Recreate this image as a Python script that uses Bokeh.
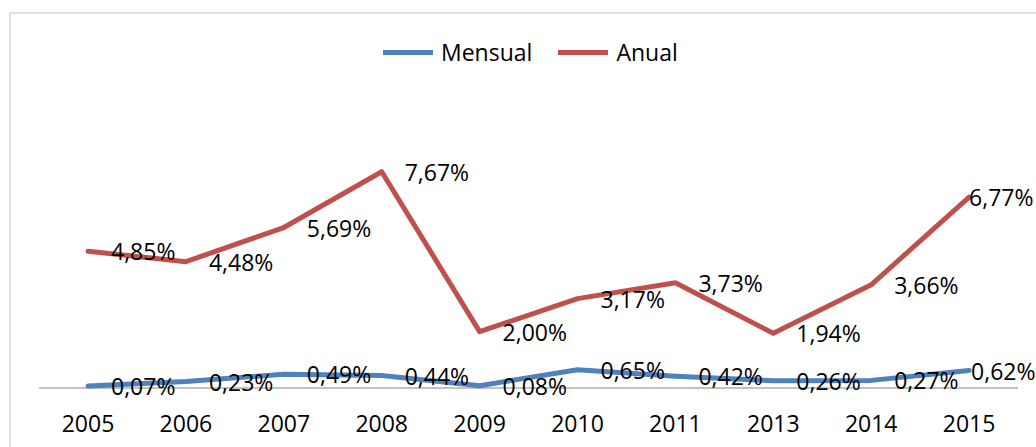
from bokeh.plotting import figure
from bokeh.models import Range1d, FixedTicker, Legend, LegendItem, ColumnDataSource, BoxAnnotation
from bokeh.core.properties import value
from bokeh.embed import file_html
from bokeh.resources import INLINE

# ---- data ----
years = ["2005", "2006", "2007", "2008", "2009", "2010", "2011", "2013", "2014", "2015"]
mensual = [0.07, 0.23, 0.49, 0.44, 0.08, 0.65, 0.42, 0.26, 0.27, 0.62]
anual = [4.85, 4.48, 5.69, 7.67, 2.00, 3.17, 3.73, 1.94, 3.66, 6.77]
series_names = ["Mensual", "Anual"]

# ---- style / layout ----
BLUE = "#4F81BD"
RED = "#C0504D"
GREY = "#868686"
BORDER = "#7A7A7A"
FONT = "Open Sans"
FS = "23px"
W, H = 1036, 447
X0, XU = 87.5, 97.9     # pixel of first category, pixels per category
Y0, YU = 387.5, 28.2    # pixel of zero line, pixels per percent

n = len(years)
idx = list(range(n))


def fmt(v):
    return f"{v:.2f}%".replace(".", ",")


m_off = [23] * (n - 1) + [2]
a_off = [23] * (n - 1) + [0]

src_m = ColumnDataSource(dict(x=idx, y=mensual, t=[fmt(v) for v in mensual], xo=m_off))
src_a = ColumnDataSource(dict(x=idx, y=anual, t=[fmt(v) for v in anual], xo=a_off))

xr = Range1d(-X0 / XU, (W - X0) / XU)
yr = Range1d(-(H - Y0) / YU, Y0 / YU)

p = figure(width=W, height=H, output_backend="svg", toolbar_location=None,
           x_range=xr, y_range=yr,
           min_border_left=0, min_border_right=0, min_border_top=0, min_border_bottom=0)
p.outline_line_color = None
p.xgrid.visible = False
p.ygrid.visible = False
p.yaxis.visible = False
p.background_fill_color = "white"
p.border_fill_color = "white"

ax = p.xaxis[0]
ax.fixed_location = 0
ax.ticker = FixedTicker(ticks=idx)
ax.major_label_overrides = {i: y for i, y in zip(idx, years)}
ax.axis_line_color = None
ax.major_tick_line_color = None
ax.minor_tick_line_color = None
ax.major_label_text_font = FONT
ax.major_label_text_font_size = FS
ax.major_label_text_color = "black"
ax.major_label_standoff = 21

# chart border (only top/left edges fall inside the window)
p.add_layout(BoxAnnotation(left=(9.5 - X0) / XU, top=(Y0 - 12.5) / YU,
                           right=xr.end + 5, bottom=yr.start - 5,
                           fill_alpha=0, line_color=BORDER, line_width=1.5))

# baseline at zero
p.segment(x0=[idx[0] - 0.5], x1=[idx[-1] + 0.5], y0=[0], y1=[0], line_color=GREY, line_width=1.2)

r_m = p.line("x", "y", source=src_m, line_color=BLUE, line_width=5, line_cap="round", line_join="round")
r_a = p.line("x", "y", source=src_a, line_color=RED, line_width=5, line_cap="round", line_join="round")

for s in (src_m, src_a):
    p.text("x", "y", text="t", source=s, x_offset="xo", y_offset=0,
           text_font=value(FONT), text_font_size=FS, text_color="black",
           text_align="left", text_baseline="middle")

legend = Legend(items=[LegendItem(label=series_names[0], renderers=[r_m]),
                       LegendItem(label=series_names[1], renderers=[r_a])],
                orientation="horizontal", location=(383, 379),
                glyph_width=50, glyph_height=20, label_standoff=8, spacing=26,
                padding=0, margin=0, border_line_color=None, background_fill_alpha=0,
                label_text_font=FONT, label_text_font_size=FS, label_text_color="black")
p.add_layout(legend, "center")

open("out.html", "w").write(file_html(p, INLINE))
